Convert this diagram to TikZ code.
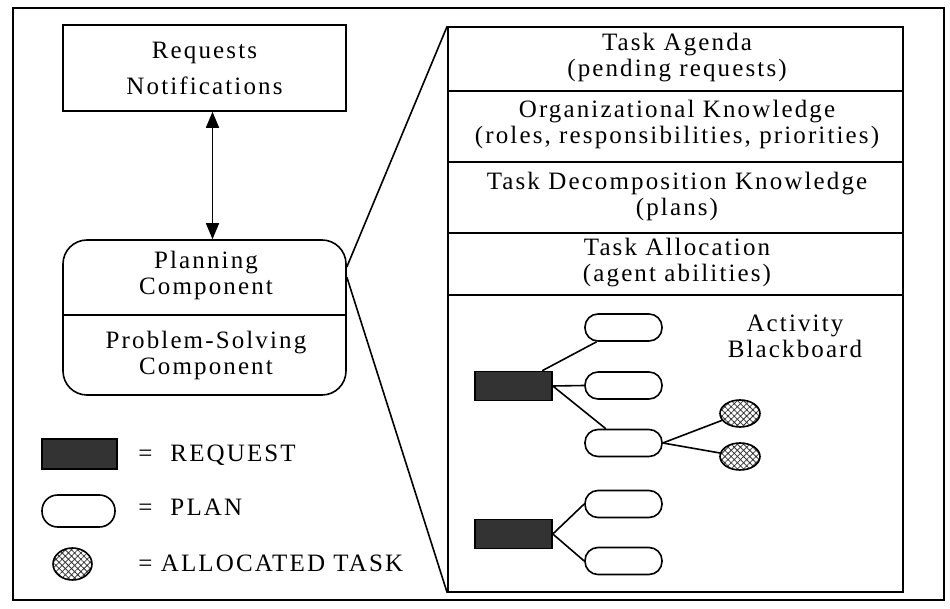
\documentclass[tikz,border=0pt]{standalone}
\usepackage{fontspec}
\setmainfont{Liberation Serif}[LetterSpace=8.5]
\usetikzlibrary{
	arrows.meta,
	patterns.meta,
	positioning,
	shapes.geometric,
}
\tikzset{
	plain box/.style={
		draw,
		line width=0.8pt,
		inner sep=0pt,
	},
	label text/.style={
		inner sep=0pt,
		align=center,
		font=\fontsize{12.5}{13}\selectfont,
	},
	request node/.style={
		plain box,
		fill=black!80,
		minimum width=38.5pt,
		minimum height=14.5pt,
	},
	plan node/.style={
		plain box,
		rounded corners=6.5pt,
		minimum width=38.5pt,
		minimum height=13.5pt,
	},
	task node/.style={
		plain box,
		ellipse,
		pattern={Hatch[angle=45,distance=2.2pt,line width=0.4pt]},
		pattern color=black!80,
		minimum width=20pt,
		minimum height=13.5pt,
	},
}

\begin{document}
\begin{tikzpicture}[x=0.5pt,y=-0.5pt]
\useasboundingbox (0,0) rectangle (950,609);
\draw[line width=0.7pt] (13,8) rectangle (944,600);

% left side
\node[plain box,label text,minimum width=141.5pt,minimum height=43pt] (req) at (204.5,68)
	{Requests\\[5pt]Notifications};
\node[plain box,rounded corners=12pt,minimum width=141.5pt,minimum height=77.5pt] (pc) at (204.5,317.5) {};
\draw[line width=0.8pt] (pc.west |- 0,315) -- (pc.east |- 0,315);
\node[label text] (plan) at (206,275) {Planning\\Component};
\node[label text] (solve) at (206,355) {Problem-Solving\\Component};

\draw[line width=0.8pt,{Triangle[length=8pt,width=6.5pt]}-{Triangle[length=8pt,width=6.5pt]}]
	([xshift=4pt]req.south) -- ([xshift=4pt]pc.north);

% knowledge stack
\node[plain box,minimum width=227.5pt,minimum height=282.5pt] (kb) at (675.5,309.5) {};
\foreach \yy in {91,162,233,295}{
	\draw[line width=0.8pt] (kb.west |- 0,\yy) -- (kb.east |- 0,\yy);
}
\node[label text] (agenda) at (677,58) {Task Agenda\\(pending requests)};
\node[label text] (orgk) at (677,124) {Organizational Knowledge\\(roles, responsibilities, priorities)};
\node[label text] (decomp) at (677,196) {Task Decomposition Knowledge\\(plans)};
\node[label text] (alloc) at (677,263) {Task Allocation\\(agent abilities)};
\node[label text] (board) at (795,336) {Activity\\Blackboard};

\draw[line width=0.8pt] (pc.east |- 0,267) -- (kb.north west);
\draw[line width=0.8pt] (pc.east |- 0,277) -- (kb.south west);

% activity blackboard
\node[request node] (r1) at (513.5,386) {};
\node[request node] (r2) at (513.5,534) {};
\node[plan node] (p1) at (623.5,327.5) {};
\node[plan node] (p2) at (623.5,385.5) {};
\node[plan node] (p3) at (623.5,443) {};
\node[plan node] (p4) at (623.5,504) {};
\node[plan node] (p5) at (623.5,561) {};
\node[task node] (t1) at (740,413.5) {};
\node[task node] (t2) at (740,456.5) {};

\foreach \a/\b in {r1/p1,r1.east/p2.west,r1.east/p3,p3.east/t1,p3.east/t2,r2.east/p4.west,r2.east/p5.west}{
	\draw[line width=0.8pt] (\a) -- (\b);
}

% legend
\node[request node,minimum width=37.5pt,minimum height=15pt] (lr) at (79.5,454) {};
\node[plan node,minimum width=36.5pt,minimum height=16pt,rounded corners=7.8pt] (lp) at (78.5,511) {};
\node[task node,minimum width=19.5pt,minimum height=16pt] (lt) at (72.5,564) {};
\node[label text,anchor=west] (lrt) at (138,455) {=\hspace{9pt}REQUEST};
\node[label text,anchor=west] (lpt) at (138,507) {=\hspace{9pt}PLAN};
\node[label text,anchor=west] (ltt) at (138,563) {= ALLOCATED TASK};
\end{tikzpicture}
\end{document}
